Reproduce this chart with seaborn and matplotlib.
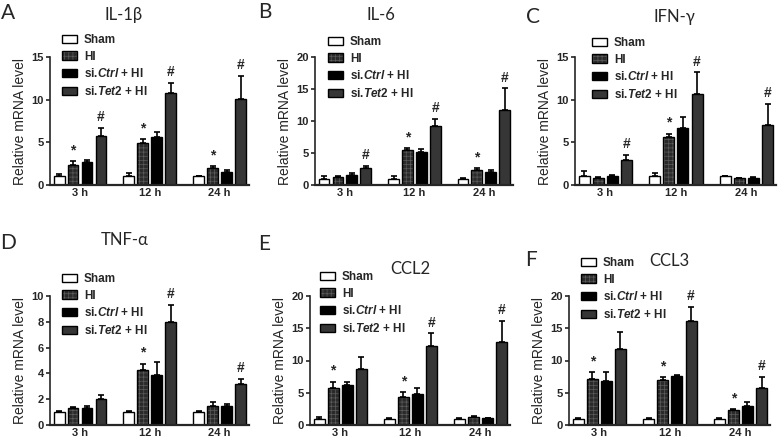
import numpy as np
import pandas as pd
import matplotlib
matplotlib.use('Agg')
import matplotlib.pyplot as plt
import matplotlib.colors as mcolors
import seaborn as sns

# categories
times = ['3 h', '12 h', '24 h']
groups = ['Sham', 'HI', 'si.Ctrl + HI', 'si.Tet2 + HI']
legend_labels = ['Sham', 'HI', r'si.$\it{Ctrl}$ + HI', r'si.$\it{Tet2}$ + HI']

# rows: Sham, HI, si.Ctrl + HI, si.Tet2 + HI ; cols: 3 h, 12 h, 24 h
il1b_mean = [[1.0, 1.0, 1.0], [2.4, 4.9, 2.0], [2.65, 5.6, 1.5], [5.7, 10.8, 10.1]]
il1b_err = [[0.3, 0.4, 0.05], [0.4, 0.5, 0.2], [0.25, 0.6, 0.3], [1.0, 1.2, 2.7]]
il1b_sig = [['', '', ''], ['*', '*', '*'], ['', '', ''], ['#', '#', '#']]

il6_mean = [[1.0, 1.0, 1.0], [1.3, 5.4, 2.3], [1.5, 5.1, 2.1], [2.7, 9.2, 11.7]]
il6_err = [[0.4, 0.4, 0.1], [0.15, 0.35, 0.3], [0.3, 0.5, 0.3], [0.25, 1.1, 3.4]]
il6_sig = [['', '', ''], ['', '*', '*'], ['', '', ''], ['#', '#', '#']]

ifng_mean = [[1.0, 1.0, 1.0], [0.8, 5.6, 0.8], [1.0, 6.7, 0.85], [2.9, 10.7, 7.0]]
ifng_err = [[0.6, 0.4, 0.1], [0.1, 0.4, 0.05], [0.2, 1.3, 0.1], [0.6, 2.5, 2.5]]
ifng_sig = [['', '', ''], ['', '*', ''], ['', '', ''], ['#', '#', '#']]

tnfa_mean = [[1.0, 1.0, 1.0], [1.3, 4.25, 1.5], [1.35, 3.9, 1.45], [2.05, 8.0, 3.2]]
tnfa_err = [[0.05, 0.1, 0.05], [0.1, 0.5, 0.3], [0.15, 1.0, 0.15], [0.3, 1.3, 0.35]]
tnfa_sig = [['', '', ''], ['', '*', ''], ['', '', ''], ['', '#', '#']]

ccl2_mean = [[1.0, 1.0, 1.0], [5.8, 4.3, 1.25], [6.2, 4.8, 1.05], [8.7, 12.2, 12.9]]
ccl2_err = [[0.2, 0.05, 0.1], [0.9, 0.8, 0.15], [0.5, 1.0, 0.05], [1.8, 2.0, 3.3]]
ccl2_sig = [['', '', ''], ['*', '*', ''], ['', '', ''], ['', '#', '#']]

ccl3_mean = [[1.0, 1.0, 1.0], [7.2, 6.9, 2.3], [6.8, 7.6, 3.0], [11.8, 16.2, 5.7]]
ccl3_err = [[0.05, 0.05, 0.05], [1.0, 0.5, 0.2], [1.4, 0.2, 0.6], [2.6, 2.1, 1.7]]
ccl3_sig = [['', '', ''], ['*', '*', '*'], ['', '', ''], ['', '#', '#']]

W, H = 778, 438

panels = [
    # title, letter, mean, err, sig, ymax, ystep, axes px (l, t, r, b), legend px, title px, letter px
    ('IL-1β', 'A', il1b_mean, il1b_err, il1b_sig, 15, 5, (50, 57, 249, 185), (62, 34), (124, 15), (8, 13)),
    ('IL-6', 'B', il6_mean, il6_err, il6_sig, 20, 5, (315, 57, 513, 185), (328, 36), (381, 15), (265, 12)),
    ('IFN-γ', 'C', ifng_mean, ifng_err, ifng_sig, 15, 5, (575, 57, 776, 185), (592, 37), (674, 17), (533, 17)),
    ('TNF-α', 'D', tnfa_mean, tnfa_err, tnfa_sig, 10, 2, (50, 296, 249, 425), (62, 273), (125, 240), (8, 243)),
    ('CCL2', 'E', ccl2_mean, ccl2_err, ccl2_sig, 20, 5, (310, 296, 510, 425), (320, 271), (410, 269), (264, 244)),
    ('CCL3', 'F', ccl3_mean, ccl3_err, ccl3_sig, 20, 5, (569, 296, 770, 425), (581, 257), (669, 261), (531, 260)),
]

sns.set_style('ticks')
plt.rcParams['font.family'] = ['Liberation Sans', 'DejaVu Sans']
plt.rcParams['mathtext.fontset'] = 'custom'
plt.rcParams['mathtext.rm'] = 'Liberation Sans:bold'
plt.rcParams['mathtext.it'] = 'Liberation Sans:italic:bold'
plt.rcParams['hatch.linewidth'] = 0.5

face = ['white', '#2a2a2a', 'black', '#363636']
hatch = [None, '++++', None, None]
hatch_col = [None, '#5c5c5c', None, None]


def fx(x):
    return x / W


def fy(y):
    return 1 - y / H


fig = plt.figure(figsize=(W / 100, H / 100), dpi=100)

for title, letter, mean, err, sig, ymax, ystep, box, leg, tpos, lpos in panels:
    l, t, r, b = box
    ax = fig.add_axes([fx(l), fy(b), (r - l) / W, (b - t) / H])

    rows = []
    for gi, g in enumerate(groups):
        for ti, tm in enumerate(times):
            rows.append({'time': tm, 'group': g, 'value': mean[gi][ti],
                         'err': err[gi][ti], 'sig': sig[gi][ti]})
    df = pd.DataFrame(rows)

    sns.barplot(data=df, x='time', y='value', hue='group', order=times,
                hue_order=groups, palette=face, edgecolor='black',
                linewidth=1.0, width=0.8, gap=0.22, errorbar=None,
                legend=False, ax=ax)

    bars = list(ax.containers)
    for gi, cont in enumerate(bars):
        sub = df[df['group'] == groups[gi]].set_index('time').loc[times]
        xs = [p.get_x() + p.get_width() / 2 for p in cont.patches]
        for p in cont.patches:
            p.set_facecolor(face[gi])
            if hatch[gi]:
                p.set_hatch(hatch[gi])
                try:
                    p.set_hatchcolor(hatch_col[gi])
                except AttributeError:
                    p._hatch_color = mcolors.to_rgba(hatch_col[gi])
        vals = sub['value'].values
        errs = sub['err'].values
        ax.errorbar(xs, vals, yerr=[np.zeros(len(errs)), errs], fmt='none',
                    ecolor='black', elinewidth=1.2, capsize=2.5, capthick=1.2,
                    zorder=1)
        for x, v, e, s in zip(xs, vals, errs, sub['sig'].values):
            if s:
                ax.text(x, v + e + ymax * 0.03, s, ha='center', va='bottom',
                        fontsize=10, fontweight='bold')

    ax.set_xlim(-0.43, 2.42)
    ax.set_ylim(0, ymax)
    ax.set_yticks(np.arange(0, ymax + 1, ystep))
    ax.set_xlabel('')
    ax.set_ylabel('Relative mRNA level', fontsize=10, labelpad=3)
    sns.despine(ax=ax)
    ax.spines['left'].set_linewidth(1.2)
    ax.spines['bottom'].set_linewidth(1.6)
    ax.tick_params(axis='y', length=3, width=1.2, pad=1.5, labelsize=8)
    ax.tick_params(axis='x', length=0, pad=2, labelsize=8)
    for lab in ax.get_xticklabels() + ax.get_yticklabels():
        lab.set_fontweight('bold')

    lg = ax.legend(handles=bars, labels=legend_labels,
                   loc='upper left', bbox_to_anchor=(fx(leg[0]), fy(leg[1])),
                   bbox_transform=fig.transFigure, frameon=False,
                   fontsize=8.5, handlelength=1.25, handleheight=0.7,
                   handletextpad=0.6, labelspacing=0.4, borderpad=0,
                   borderaxespad=0)
    for txt in lg.get_texts():
        txt.set_fontweight('bold')

    fig.text(fx(tpos[0]), fy(tpos[1]), title, ha='center', va='center',
             fontsize=12, family=['Lato', 'DejaVu Sans'])
    fig.text(fx(lpos[0]), fy(lpos[1]), letter, ha='center', va='center',
             fontsize=15, family=['Lato', 'DejaVu Sans'])

fig.savefig('out.png', dpi=100)
